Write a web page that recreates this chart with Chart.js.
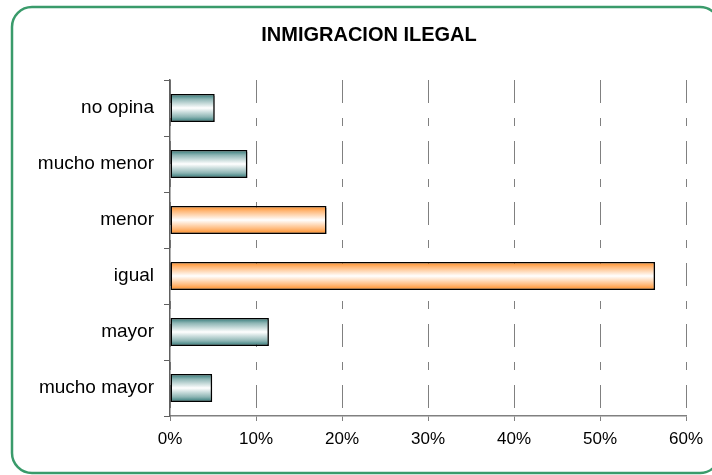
<!DOCTYPE html>
<html>
<head>
<meta charset="utf-8">
<script src="https://cdn.jsdelivr.net/npm/chart.js@4/dist/chart.umd.min.js"></script>
<style>
  html, body { margin: 0; padding: 0; background: #ffffff; }
  #wrap { width: 712px; height: 475px; position: relative; }
</style>
</head>
<body>
<div id="wrap"><canvas id="c" width="712" height="475"></canvas></div>
<script>
const chartTitle = "INMIGRACION ILEGAL";
const categories = ["no opina", "mucho menor", "menor", "igual", "mayor", "mucho mayor"];
const values = [5.2, 9.0, 18.2, 56.4, 11.5, 4.9];
const highlighted = [false, false, true, true, false, false];
const xTicks = [0, 10, 20, 30, 40, 50, 60];

function barGradient(ctx, chart, index, isOrange) {
  const y = chart.scales.y;
  if (!y || y.top === undefined) return isOrange ? '#ffb070' : '#8fb8b6';
  const c = y.getPixelForValue(index);
  const half = (y.height / categories.length) * 0.5 / 2;
  const g = chart.ctx.createLinearGradient(0, c - half, 0, c + half);
  if (isOrange) {
    g.addColorStop(0, '#ff8a1e');
    g.addColorStop(0.18, '#ffb878');
    g.addColorStop(0.5, '#ffffff');
    g.addColorStop(0.82, '#ffb878');
    g.addColorStop(1, '#ff8a1e');
  } else {
    g.addColorStop(0, '#2a7372');
    g.addColorStop(0.18, '#8db5b4');
    g.addColorStop(0.5, '#ffffff');
    g.addColorStop(0.82, '#8db5b4');
    g.addColorStop(1, '#2a7372');
  }
  return g;
}

const framePlugin = {
  id: 'frame',
  beforeDraw(chart) {
    const ctx = chart.ctx;
    ctx.save();
    ctx.fillStyle = '#ffffff';
    ctx.fillRect(0, 0, chart.width, chart.height);
    ctx.strokeStyle = '#3a9b6b';
    ctx.lineWidth = 2.5;
    ctx.beginPath();
    ctx.roundRect(12, 7, 708, 466, 20);
    ctx.stroke();
    ctx.fillStyle = '#000000';
    ctx.font = 'bold 20px "Liberation Sans", Arial, sans-serif';
    ctx.textAlign = 'center';
    ctx.textBaseline = 'middle';
    ctx.fillText(chartTitle, 369, 35);
    ctx.restore();
  },
  beforeDatasetsDraw(chart) {
    const ctx = chart.ctx;
    ctx.save();
    ctx.shadowColor = 'rgba(0,0,0,0.35)';
    ctx.shadowOffsetX = 2;
    ctx.shadowOffsetY = 2;
    ctx.shadowBlur = 0;
  },
  afterDatasetsDraw(chart) {
    chart.ctx.restore();
  }
};

new Chart(document.getElementById('c'), {
  type: 'bar',
  data: {
    labels: categories,
    datasets: [{
      data: values,
      backgroundColor: (context) => barGradient(context.chart.ctx, context.chart, context.dataIndex, highlighted[context.dataIndex]),
      borderColor: '#000000',
      borderWidth: 1.5,
      borderSkipped: false,
      barPercentage: 0.5,
      categoryPercentage: 1.0
    }]
  },
  plugins: [framePlugin],
  options: {
    indexAxis: 'y',
    responsive: false,
    animation: false,
    events: [],
    layout: { padding: { left: 0, right: 26, top: 80, bottom: 0 } },
    plugins: { legend: { display: false }, tooltip: { enabled: false }, title: { display: false } },
    scales: {
      x: {
        min: 0, max: 60,
        afterBuildTicks(scale) { scale.ticks = xTicks.map(v => ({ value: v })); },
        afterFit(scale) { scale.height = 59; },
        grid: {
          color: '#808080', lineWidth: 1, drawTicks: true, tickLength: 5,
          tickColor: '#808080', tickBorderDash: []
        },
        border: { display: true, color: '#808080', width: 1.5, dash: [23, 15, 8, 15] },
        ticks: {
          callback: (v) => v + '%',
          color: '#000000',
          padding: 8,
          maxRotation: 0,
          font: { family: '"Liberation Sans", Arial, sans-serif', size: 17 }
        }
      },
      y: {
        afterFit(scale) { scale.width = 170; },
        grid: {
          drawOnChartArea: false, drawTicks: true, tickLength: 6,
          tickColor: '#606060', offset: true
        },
        border: { display: true, color: '#606060', width: 1.5 },
        ticks: {
          color: '#000000',
          padding: 10,
          font: { family: '"Liberation Sans", Arial, sans-serif', size: 19 }
        }
      }
    }
  }
});
</script>
</body>
</html>
